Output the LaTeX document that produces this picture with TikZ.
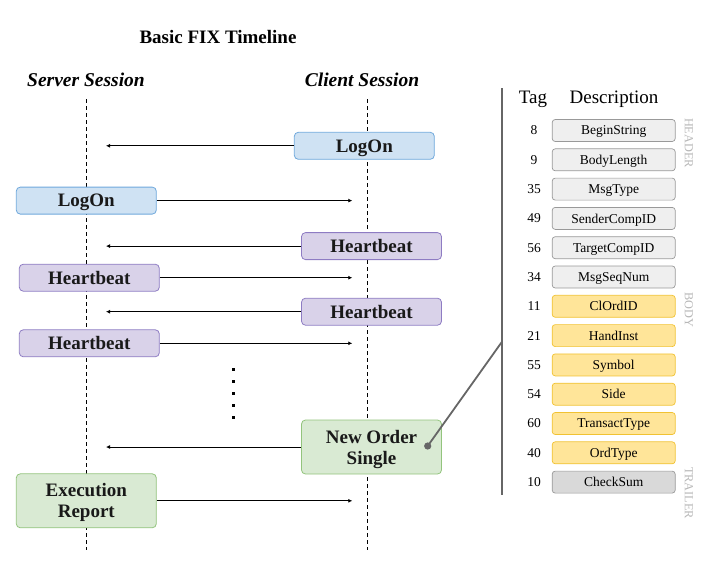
\documentclass[tikz,border=0pt]{standalone}
\usepackage{fontspec}
\setmainfont{Liberation Serif}
\usetikzlibrary{arrows.meta}
\definecolor{bluefill}{HTML}{CFE2F3}
\definecolor{blueline}{HTML}{6FA8DC}
\definecolor{purpfill}{HTML}{D9D2E9}
\definecolor{purpline}{HTML}{8E7CC3}
\definecolor{greenfill}{HTML}{D9EAD3}
\definecolor{greenline}{HTML}{93C47D}
\definecolor{hdrfill}{HTML}{EFEFEF}
\definecolor{hdrline}{HTML}{999999}
\definecolor{bodyfill}{HTML}{FFE599}
\definecolor{bodyline}{HTML}{F1C232}
\definecolor{trlfill}{HTML}{D9D9D9}
\definecolor{connc}{HTML}{666666}
\definecolor{sidec}{HTML}{B7B7B7}
\tikzset{
  msg/.style={draw, rounded corners=4pt, line width=0.8pt, minimum width=140pt,
    inner sep=0pt, align=center, text depth=0pt,
    font=\fontsize{19}{21}\selectfont\bfseries, text=black!90},
  bluebox/.style={msg, fill=bluefill, draw=blueline, minimum height=27pt},
  purpbox/.style={msg, fill=purpfill, draw=purpline, minimum height=27pt},
  greenbox/.style={msg, fill=greenfill, draw=greenline, minimum height=54pt},
  arr/.style={line width=0.8pt, -{Latex[length=4pt,width=4pt]}},
  lifeline/.style={dashed, dash pattern=on 4pt off 3pt, line width=0.7pt},
  fld/.style={draw, rounded corners=3pt, line width=0.7pt, minimum width=123pt,
    minimum height=22pt, inner sep=0pt, text depth=0pt,
    font=\fontsize{13.5}{15}\selectfont},
  hdr/.style={fld, fill=hdrfill, draw=hdrline},
  bdy/.style={fld, fill=bodyfill, draw=bodyline},
  trl/.style={fld, fill=trlfill, draw=hdrline},
  tagn/.style={font=\fontsize{13.5}{15}\selectfont, inner sep=0pt, text depth=0pt},
  sidelbl/.style={font=\fontsize{12.3}{14}\selectfont, text=sidec, rotate=-90, inner sep=0pt},
  head/.style={font=\fontsize{19.5}{22}\selectfont\bfseries\itshape, inner sep=0pt, text depth=0pt},
  colhead/.style={font=\fontsize{19}{22}\selectfont, inner sep=0pt, text depth=0pt},
}
\begin{document}
\begin{tikzpicture}[x=1pt, y=-1pt]
\useasboundingbox (0,0) rectangle (714,576);

% titles
\node[font=\fontsize{19}{22}\selectfont\bfseries, inner sep=0pt, text depth=0pt] (title) at (218,37) {Basic FIX Timeline};
\node[head] (srvhead) at (86,79.3) {Server Session};
\node[head] (clihead) at (362,79.3) {Client Session};

% lifelines
\coordinate (stop) at (86.3,99);
\coordinate (sbot) at (86.3,550);
\coordinate (ctop) at (367.7,99);
\coordinate (cbot) at (367.7,550);
\draw[lifeline] (stop) -- (sbot);
\draw[lifeline] (ctop) -- (cbot);

% arrow end references
\coordinate (sarr) at (106,0);
\coordinate (carr) at (352.3,0);

% messages
\node[bluebox] (clogon) at (364.3,145.8) {LogOn};
\node[bluebox] (slogon) at (86.3,200.6) {LogOn};
\node[purpbox] (chb1) at (371.5,246.1) {Heartbeat};
\node[purpbox] (shb1) at (89.3,277.7) {Heartbeat};
\node[purpbox] (chb2) at (371.5,311.7) {Heartbeat};
\node[purpbox] (shb2) at (89.3,343.3) {Heartbeat};
\node[greenbox] (cnos) at (371.5,447) {New Order\\Single};
\node[greenbox] (ser) at (86.3,500.8) {Execution\\Report};

\draw[arr] (clogon.west) -- (clogon.west -| sarr);
\draw[arr] (slogon.east) -- (slogon.east -| carr);
\draw[arr] (chb1.west) -- (chb1.west -| sarr);
\draw[arr] (shb1.east) -- (shb1.east -| carr);
\draw[arr] (chb2.west) -- (chb2.west -| sarr);
\draw[arr] (shb2.east) -- (shb2.east -| carr);
\draw[arr] (cnos.west) -- (cnos.west -| sarr);
\draw[arr] (ser.east) -- (ser.east -| carr);

% ellipsis dots
\foreach \i/\yy in {1/369.5,2/381.7,3/393.7,4/405.7,5/417.3}
  \fill (233.3,\yy) +(-1.3,-1.3) rectangle +(1.3,1.3);

% message structure panel
\coordinate (vtop) at (502,88);
\coordinate (vbot) at (502,495);
\coordinate (vjoin) at (502,341.7);
\draw[connc, line width=2pt] (vtop) -- (vbot);

\node[colhead] (tagh) at (533,97) {Tag};
\node[colhead] (desch) at (614,97) {Description};

\foreach \n/\t/\d [count=\k from 0] in {
  8/BeginString/hdr,
  9/BodyLength/hdr,
  35/MsgType/hdr,
  49/SenderCompID/hdr,
  56/TargetCompID/hdr,
  34/MsgSeqNum/hdr,
  11/ClOrdID/bdy,
  21/HandInst/bdy,
  55/Symbol/bdy,
  54/Side/bdy,
  60/TransactType/bdy,
  40/OrdType/bdy,
  10/CheckSum/trl}
{
  \node[\d] (f\k) at (613.7,{130.5+29.3*\k}) {\t};
  \node[tagn] (t\k) at (534,{130.5+29.3*\k}) {\n};
}

\node[sidelbl] (lhdr) at (689,143) {HEADER};
\node[sidelbl] (lbdy) at (689,310) {BODY};
\node[sidelbl] (ltrl) at (689,493) {TRAILER};

% connector from message to structure
\coordinate (dot) at (427.7,446);
\draw[connc, line width=1.8pt] (dot) -- (vjoin);
\fill[connc] (dot) circle (3.6pt);
\end{tikzpicture}
\end{document}
